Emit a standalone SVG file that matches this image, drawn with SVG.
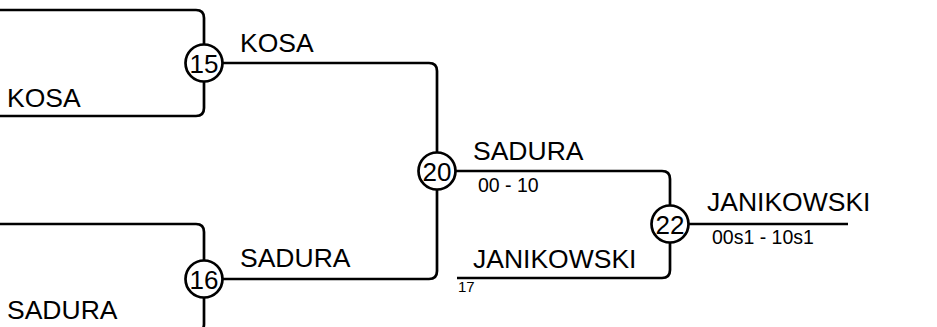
<svg xmlns="http://www.w3.org/2000/svg" width="937" height="327" viewBox="0 0 937 327">
<style>
.ln{fill:none;stroke:#000;stroke-width:2.7}
.nd{fill:#fff;stroke:#000;stroke-width:2.7}
.big{font-family:"Liberation Sans",Arial,sans-serif;font-size:26.5px;fill:#000}
.num{font-family:"Liberation Sans",Arial,sans-serif;font-size:26px;fill:#000;text-anchor:middle}
.sm{font-family:"Liberation Sans",Arial,sans-serif;font-size:19.5px;fill:#000}
.xs{font-family:"Liberation Sans",Arial,sans-serif;font-size:15px;fill:#000}
</style>
<rect width="937" height="327" fill="#fff"/>
<g id="connectors">
<path class="ln" d="M0,10 H196 Q204,10 204,18 V108 Q204,116 196,116 H0"/>
<path class="ln" d="M0,224 H196 Q204,224 204,232 V324 Q204,332 196,332 H0"/>
<path class="ln" d="M204,63 H429 Q437,63 437,71 V271 Q437,279 429,279 H204"/>
<path class="ln" d="M437,171 H662 Q670,171 670,179 V270 Q670,278 662,278 H457"/>
<path class="ln" d="M670,224 H848"/>
</g>
<g id="labels">
<text class="big" x="7" y="107">KOSA</text>
<text class="big" x="7" y="319">SADURA</text>
<text class="big" x="240" y="52">KOSA</text>
<text class="big" x="240" y="267">SADURA</text>
<text class="big" x="473" y="160">SADURA</text>
<text class="sm" x="478" y="192">00 - 10</text>
<text class="big" x="473" y="268">JANIKOWSKI</text>
<text class="xs" x="458" y="292">17</text>
<text class="big" x="707" y="211">JANIKOWSKI</text>
<text class="sm" x="712" y="244">00s1 - 10s1</text>
</g>
<g id="m15"><circle class="nd" cx="204" cy="63" r="18.5"/><text class="num" x="204" y="72.5">15</text></g>
<g id="m16"><circle class="nd" cx="204" cy="279" r="18.5"/><text class="num" x="204" y="288.5">16</text></g>
<g id="m20"><circle class="nd" cx="437" cy="171" r="18.5"/><text class="num" x="437" y="180.5">20</text></g>
<g id="m22"><circle class="nd" cx="670" cy="224" r="18.5"/><text class="num" x="670" y="233.5">22</text></g>
</svg>
